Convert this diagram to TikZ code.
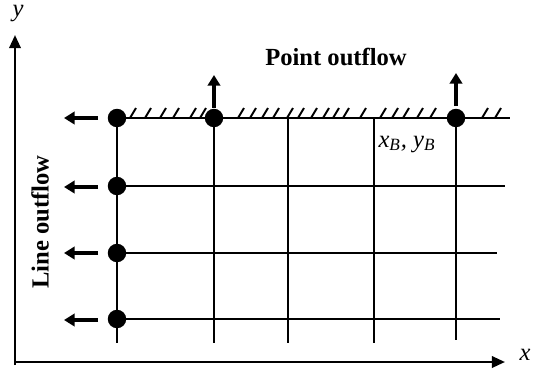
\documentclass[tikz,border=0pt]{standalone}
\usepackage{fontspec}
\setmainfont{Liberation Serif}
\usetikzlibrary{arrows.meta}
\begin{document}
\begin{tikzpicture}[x=0.02cm, y=-0.02cm, line width=1.4pt,
    dot/.style={circle, fill, inner sep=0pt, minimum size=10.5pt},
    flow/.style={-{Triangle[length=6pt, width=7pt]}, line width=2pt},
    axis/.style={-{Triangle[length=7.5pt, width=6.5pt]}, line width=1.4pt},
    lbl/.style={font=\fontsize{14}{16}\selectfont\bfseries}]
    \useasboundingbox (0,0) rectangle (538,370);
    % axes
    \coordinate (o) at (15,362);
    \coordinate (xend) at (505,362);
    \coordinate (yend) at (15,35);
    \draw[axis] (15,365) -- (yend);
    \draw[axis] (o) -- (xend);
    \node[font=\fontsize{14}{16}\selectfont\itshape] (ylab) at (18,14) {y};
    \node[font=\fontsize{14}{16}\selectfont\itshape] (xlab) at (525,355) {x};
    % grid
    \foreach \gx/\gy in {117/343, 214/343, 288/343, 374/343, 456/340}
        \draw (\gx,118) -- (\gx,\gy);
    \draw (117,118) -- (510,118);
    \draw (117,186) -- (505,186);
    \draw (117,253) -- (497,253);
    \draw (117,319) -- (500,319);
    % hatching on the boundary
    \foreach \hx in {130,145,160,173,190,200,238,250,262,273,287,298,311,323,333,343,360,380,392,403,417,430,482,495}
        \draw[line width=1.1pt] (\hx,118) -- ++(6,-10);
    % outflow nodes
    \node[dot] (d1) at (117,118) {};
    \node[dot] (d2) at (117,186) {};
    \node[dot] (d3) at (117,253) {};
    \node[dot] (d4) at (117,319) {};
    \node[dot] (p1) at (214,118) {};
    \node[dot] (p2) at (456,118) {};
    % line outflow arrows
    \foreach \i/\ry in {1/118, 2/187, 3/253, 4/320} {
        \coordinate (la\i) at (98,\ry);
        \coordinate (lb\i) at (64,\ry);
        \draw[flow] (la\i) -- (lb\i);
    }
    % point outflow arrows
    \coordinate (pa1) at (214,108);
    \coordinate (pb1) at (214,75);
    \coordinate (pa2) at (456,106);
    \coordinate (pb2) at (456,73);
    \draw[flow] (pa1) -- (pb1);
    \draw[flow] (pa2) -- (pb2);
    % labels
    \node[lbl] (ptout) at (336,57) {Point outflow};
    \node[lbl, rotate=90] (lnout) at (40,222) {Line outflow};
    \node[font=\fontsize{14}{16}\selectfont\itshape] (xb) at (407,144) {x\textsubscript{B}, y\textsubscript{B}};
\end{tikzpicture}
\end{document}
